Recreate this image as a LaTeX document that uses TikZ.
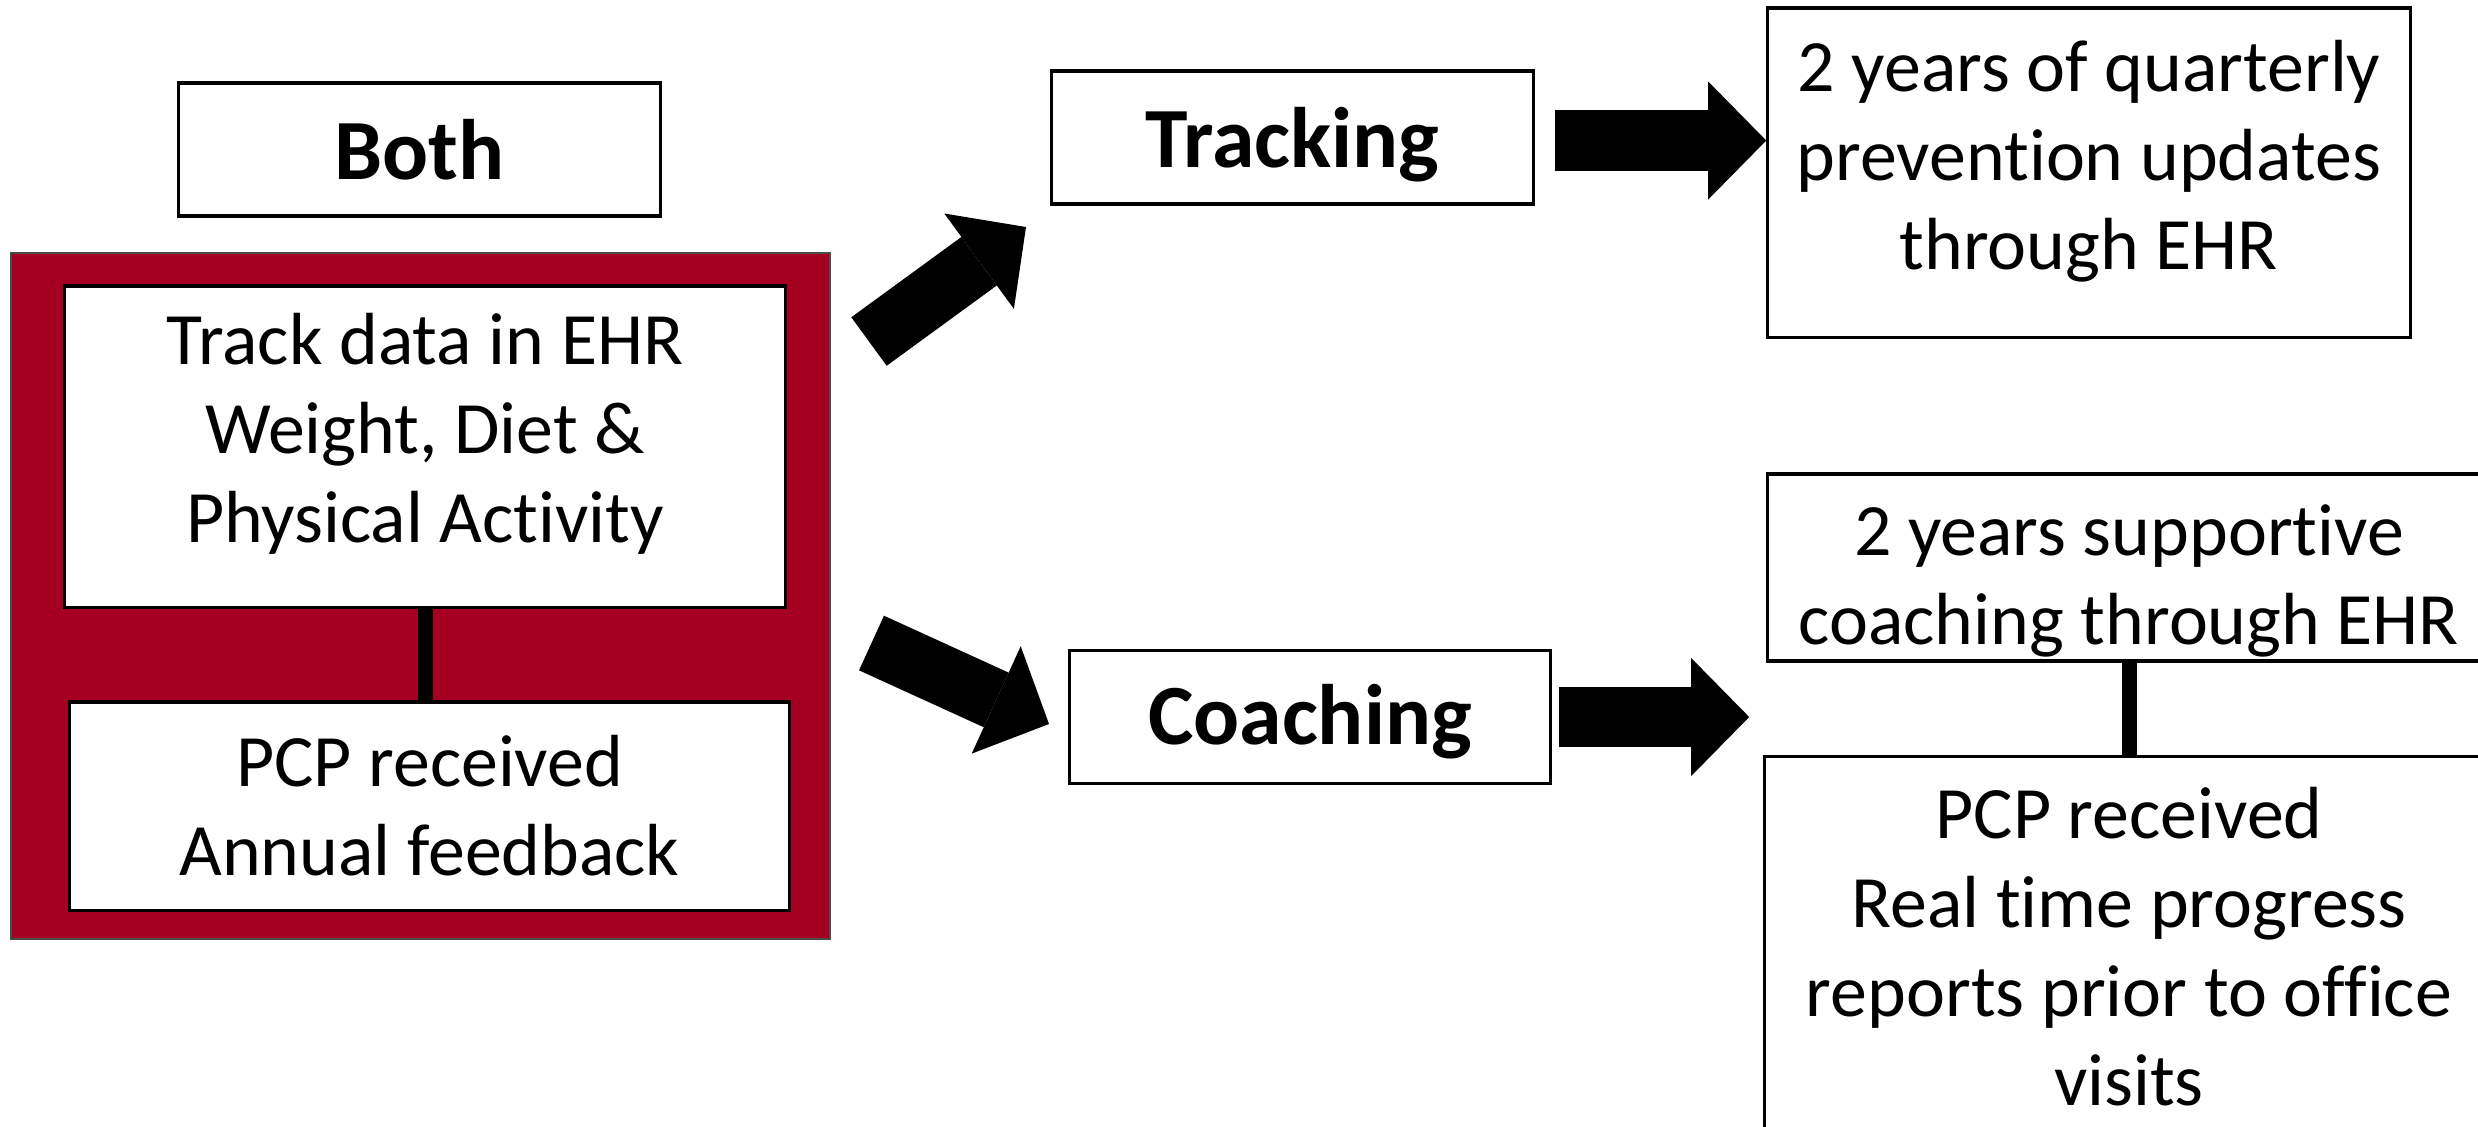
\documentclass[tikz,border=0pt]{standalone}
\usepackage{fontspec}
\setmainfont[Ligatures=NoCommon]{Carlito}
\usetikzlibrary{arrows.meta}
\definecolor{framered}{RGB}{165,0,33}

\begin{document}
\begin{tikzpicture}[x=0.01cm,y=-0.01cm,
  box/.style={draw=black,line width=0.9pt,fill=white,inner sep=0pt},
  txt/.style={align=center,inner sep=0pt,font=\fontsize{21}{25.3}\selectfont},
  headtxt/.style={txt,font=\fontsize{24.4}{29}\selectfont\bfseries},
  headbox/.style={box,minimum width=4.81cm,minimum height=1.33cm},
  bar/.style={line width=0.15cm},
  bigarrow/.style={line width=0.6cm,-{Triangle[length=0.58cm,width=1.18cm,line width=0pt]}}]
\useasboundingbox (0,0) rectangle (2478,1126);
\clip (0,0) rectangle (2478,1126);
% left column
\node[draw=black!70,line width=0.6pt,fill=framered,minimum width=8.19cm,minimum height=6.86cm] (frame) at (420.5,596) {};
\node[headbox] (both) at (419.5,149.5) {};
\node[headtxt] (bothtxt) at (both.center) {Both};
\node[box,minimum width=7.20cm,minimum height=3.21cm] (track) at (425,446.5) {};
\node[txt] (tracktxt) at ([yshift=0.13cm]track.center) {Track data in EHR\\Weight, Diet \&\\Physical Activity};
\node[box,minimum width=7.19cm,minimum height=2.08cm] (pcp1) at (429.5,806) {};
\node[txt] (pcp1txt) at (pcp1.center) {PCP received\\Annual feedback};
\draw[bar] (track.south) -- (track.south |- pcp1.north);
% middle column
\node[headbox] (tracking) at (1292.5,137.5) {};
\node[headtxt] (trackingtxt) at ([yshift=-0.07cm]tracking.center) {Tracking};
\node[headbox] (coaching) at (1310,717) {};
\node[headtxt] (coachingtxt) at ([yshift=-0.05cm]coaching.center) {Coaching};
% right column
\node[box,minimum width=6.42cm,minimum height=3.29cm] (quarterly) at (2089,172.5) {};
\node[txt] (quarterlytxt) at ([yshift=0.11cm]quarterly.center) {2 years of quarterly\\prevention updates\\through EHR};
\node[box,minimum width=7.22cm,minimum height=1.87cm] (support) at (2129,567.5) {};
\node[txt] (supporttxt) at ([yshift=-0.13cm]support.center) {2 years supportive\\coaching through EHR};
\node[box,minimum width=7.28cm,minimum height=3.79cm] (pcp2) at (2129,946.5) {};
\node[txt] (pcp2txt) at (pcp2.center) {PCP received\\Real time progress\\reports prior to office\\visits};
\draw[bar] (support.south) -- (pcp2.north);
% block arrows
\coordinate (upT) at (869,341.5);
\coordinate (upH) at (1026,227);
\coordinate (dnT) at (871.5,643);
\coordinate (dnH) at (1049,724);
\draw[bigarrow] (upT) -- (upH);
\draw[bigarrow] (dnT) -- (dnH);
\draw[bigarrow] ([xshift=0.2cm,yshift=-0.03cm]tracking.east) -- ([yshift=-0.03cm]tracking.east -| quarterly.west);
\draw[bigarrow] ([xshift=0.07cm]coaching.east) -- ([xshift=-0.17cm]coaching.east -| support.west);
\end{tikzpicture}
\end{document}
